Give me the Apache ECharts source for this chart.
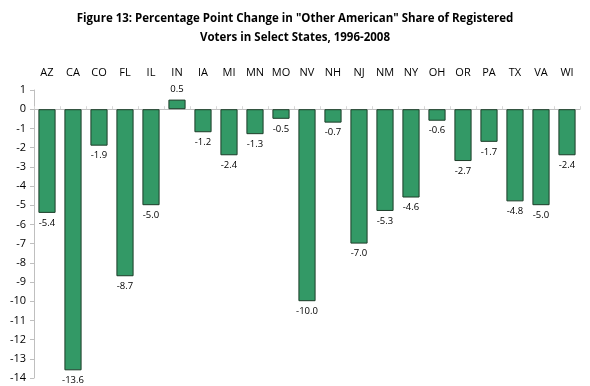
<!DOCTYPE html>
<html><head><meta charset="utf-8">
<script src="https://cdn.jsdelivr.net/npm/echarts@6/dist/echarts.min.js"></script>
<style>html,body{margin:0;padding:0;background:#fff}#c{width:590px;height:386px}</style>
</head><body><div id="c"></div>
<script>
var categories = ['AZ','CA','CO','FL','IL','IN','IA','MI','MN','MO','NV','NH','NJ','NM','NY','OH','OR','PA','TX','VA','WI'];
var values = [-5.4,-13.6,-1.9,-8.7,-5.0,0.5,-1.2,-2.4,-1.3,-0.5,-10.0,-0.7,-7.0,-5.3,-4.6,-0.6,-2.7,-1.7,-4.8,-5.0,-2.4];
var yTicks = {min:-14, max:1, interval:1};
var titleText = 'Figure 13: Percentage Point Change in "Other American" Share of Registered\nVoters in Select States, 1996-2008';

var font = '"Open Sans", "Liberation Sans", sans-serif';
var chart = echarts.init(document.getElementById('c'));
chart.setOption({
  animation:false,
  title:{text:titleText,left:'center',top:4,textStyle:{fontFamily:font,fontWeight:'bold',fontSize:11.5,lineHeight:19,color:'#000'}},
  grid:{left:34,right:10,top:90,bottom:8},
  xAxis:[{type:'category',data:categories,position:'top',axisLine:{onZero:false,show:false},axisTick:{show:false},
          axisLabel:{fontFamily:font,fontSize:11,color:'#000',margin:12}},
         {type:'category',data:categories,position:'top',axisLine:{onZero:true,lineStyle:{color:'#bfbfbf'}},axisTick:{show:true,length:3,lineStyle:{color:'#d9d9d9'}},axisLabel:{show:false}}],
  yAxis:{type:'value',min:yTicks.min,max:yTicks.max,interval:yTicks.interval,splitLine:{show:false},
         axisLine:{show:true,lineStyle:{color:'#bfbfbf'}},axisTick:{show:true,length:4,lineStyle:{color:'#bfbfbf'}},
         axisLabel:{fontFamily:font,fontSize:11,color:'#000',margin:8}},
  series:[{type:'bar',xAxisIndex:0,barWidth:'66%',
    data:values.map(function(v){return {value:v,label:{position:v<0?'bottom':'top'}};}),
    itemStyle:{color:'#339966',borderColor:'#1d3d29',borderWidth:1},
    label:{show:true,distance:5,fontFamily:font,fontSize:9.5,color:'#000',formatter:function(p){return p.value.toFixed(1);}}
  }]
});
</script></body></html>
